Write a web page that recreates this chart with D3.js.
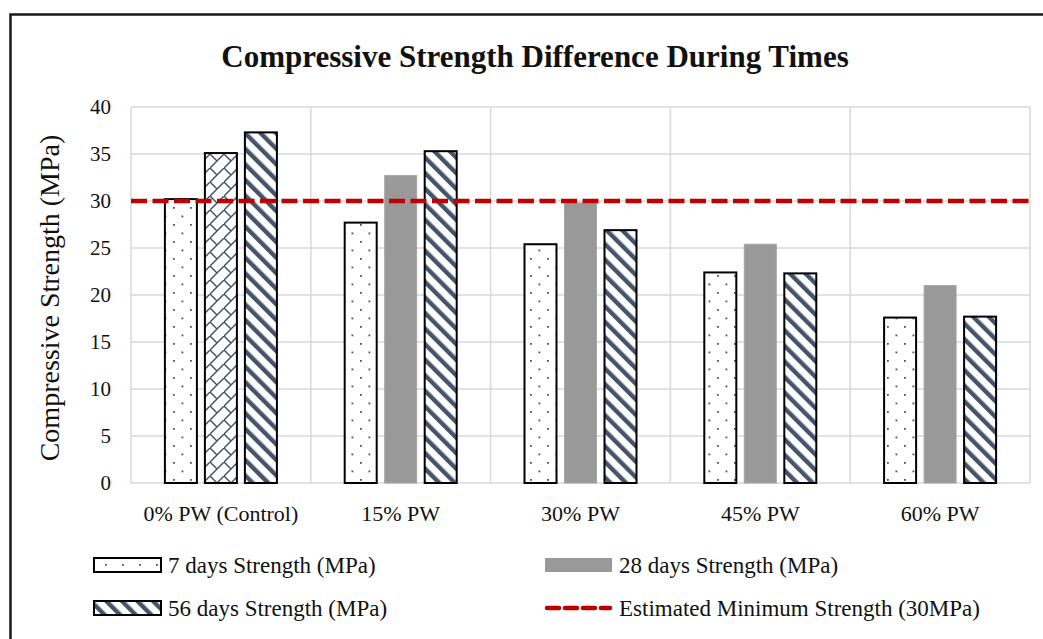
<!DOCTYPE html>
<html><head><meta charset="utf-8">
<script src="https://cdn.jsdelivr.net/npm/d3@7"></script>
<style>body{margin:0;background:#fff}svg{display:block}</style>
</head><body>
<svg id="c" width="1043" height="639"></svg>
<script>
const categories = ["0% PW (Control)", "15% PW", "30% PW", "45% PW", "60% PW"];
const seriesNames = ["7 days Strength (MPa)", "28 days Strength (MPa)", "56 days Strength (MPa)"];
const days7  = [30.2, 27.7, 25.4, 22.4, 17.6];
const days28 = [35.1, 32.7, 29.8, 25.4, 21.0];
const days56 = [37.3, 35.3, 26.9, 22.3, 17.7];
const minStrength = 30;
const minLabel = "Estimated Minimum Strength (30MPa)";
const yTicks = [0, 5, 10, 15, 20, 25, 30, 35, 40];
const title = "Compressive Strength Difference During Times";
const yTitle = "Compressive Strength (MPa)";

(function(){
const FONT = "'Liberation Serif', 'DejaVu Serif', serif";
const svg = d3.select("#c");
const defs = svg.append("defs");
const SL = "#44546a";

// dots pattern
const pd = defs.append("pattern").attr("id","dots").attr("patternUnits","userSpaceOnUse")
  .attr("width",17).attr("height",17);
pd.append("rect").attr("width",17).attr("height",17).attr("fill","#fff");
pd.append("rect").attr("x",3).attr("y",3).attr("width",1.8).attr("height",1.8).attr("fill",SL);
pd.append("rect").attr("x",11.5).attr("y",11.5).attr("width",1.8).attr("height",1.8).attr("fill",SL);
// stripes pattern ("\" direction)
const ps = defs.append("pattern").attr("id","stripes").attr("patternUnits","userSpaceOnUse")
  .attr("width",11).attr("height",11).attr("patternTransform","rotate(-45)");
ps.append("rect").attr("width",11).attr("height",11).attr("fill","#fff");
ps.append("rect").attr("x",0).attr("y",0).attr("width",4.4).attr("height",11).attr("fill",SL);
// lattice (diagonal brick) pattern
const pl = defs.append("pattern").attr("id","lattice").attr("patternUnits","userSpaceOnUse")
  .attr("width",14).attr("height",14);
pl.append("rect").attr("width",14).attr("height",14).attr("fill","#fff");
pl.append("path").attr("d","M-1,15 L15,-1 M0,0 L7,7").attr("stroke",SL).attr("stroke-width",1.5).attr("fill","none");

// frame
svg.append("rect").attr("x",10.5).attr("y",14.5).attr("width",1200).attr("height",800)
  .attr("fill","none").attr("stroke","#1a1a1a").attr("stroke-width",2.5);

const pLeft = 131, pRight = 1030, pTop = 107, pBottom = 483;
const x0 = d3.scaleBand().domain(categories).range([pLeft, pRight]).paddingInner(0).paddingOuter(0);
const bw = x0.bandwidth();
const x1 = d3.scaleBand().domain([0,1,2]).range([bw/2 - 60, bw/2 + 60]).paddingInner(0.2).paddingOuter(0.1);
const y = d3.scaleLinear().domain([0, 40]).range([pBottom, pTop]);

// grid
const g = svg.append("g");
g.selectAll("line.h").data(yTicks).join("line")
  .attr("x1", pLeft).attr("x2", pRight).attr("y1", d => y(d)).attr("y2", d => y(d))
  .attr("stroke", "#d9d9d9").attr("stroke-width", 1.5);
const vlines = categories.map(c => x0(c)).concat([pRight]);
g.selectAll("line.v").data(vlines).join("line")
  .attr("x1", d => d).attr("x2", d => d).attr("y1", y(40)).attr("y2", y(0))
  .attr("stroke", "#d9d9d9").attr("stroke-width", 1.5);

// y tick labels via axis
const yAxis = svg.append("g").attr("transform", `translate(${pLeft},0)`)
  .call(d3.axisLeft(y).tickValues(yTicks).tickSize(0).tickPadding(20));
yAxis.select(".domain").remove();
yAxis.selectAll("text").attr("font-family", FONT).attr("font-size", 21).attr("fill", "#111");

// x labels
const xAxis = svg.append("g").attr("transform", `translate(0,${pBottom})`)
  .call(d3.axisBottom(x0).tickSize(0).tickPadding(22));
xAxis.select(".domain").remove();
xAxis.selectAll("text").attr("font-family", FONT).attr("font-size", 22).attr("fill", "#111");

// bars
const series = [days7, days28, days56];
const fills = [
  () => "url(#dots)",
  (i) => i === 0 ? "url(#lattice)" : "#999999",
  () => "url(#stripes)"
];
series.forEach((vals, s) => {
  svg.append("g").selectAll("rect").data(vals).join("rect")
    .attr("x", (d, i) => x0(categories[i]) + x1(s))
    .attr("y", d => y(d))
    .attr("width", x1.bandwidth())
    .attr("height", d => y(0) - y(d))
    .attr("fill", (d, i) => fills[s](i))
    .attr("stroke", (d, i) => (s === 1 && i !== 0) ? "#a6a6a6" : "#000")
    .attr("stroke-width", (d, i) => (s === 1 && i !== 0) ? 1 : 2);
});

// min strength line
svg.append("line").attr("x1", pLeft).attr("x2", pRight)
  .attr("y1", y(minStrength)).attr("y2", y(minStrength))
  .attr("stroke", "#c00000").attr("stroke-width", 4.5).attr("stroke-dasharray", "16,5.5");

// title
svg.append("text").attr("x", 535).attr("y", 67).attr("text-anchor", "middle")
  .attr("font-family", FONT).attr("font-weight", "bold").attr("font-size", 31).attr("fill", "#111")
  .text(title);
// y title
svg.append("text").attr("transform", `translate(59,298) rotate(-90)`).attr("text-anchor", "middle")
  .attr("font-family", FONT).attr("font-size", 28).attr("fill", "#111").text(yTitle);

// legend
const leg = [
  {x: 94, y: 565, type: "rect", fill: "url(#dots)", stroke: "#000", label: seriesNames[0]},
  {x: 545, y: 565, type: "rect", fill: "#999999", stroke: "none", label: seriesNames[1]},
  {x: 94, y: 608, type: "rect", fill: "url(#stripes)", stroke: "#000", label: seriesNames[2]},
  {x: 545, y: 608, type: "line", label: minLabel}
];
leg.forEach(l => {
  if (l.type === "rect") {
    svg.append("rect").attr("x", l.x).attr("y", l.y - 7).attr("width", 67).attr("height", 14)
      .attr("fill", l.fill).attr("stroke", l.stroke).attr("stroke-width", 2);
  } else {
    svg.append("line").attr("x1", l.x + 2).attr("x2", l.x + 65).attr("y1", l.y).attr("y2", l.y)
      .attr("stroke", "#c00000").attr("stroke-width", 4.5).attr("stroke-dasharray", "12,6")
      .attr("stroke-linecap", "round");
  }
  svg.append("text").attr("x", l.x + 74).attr("y", l.y + 8).attr("font-family", FONT)
    .attr("font-size", 23).attr("fill", "#111").text(l.label);
});
})();
</script>
</body></html>
